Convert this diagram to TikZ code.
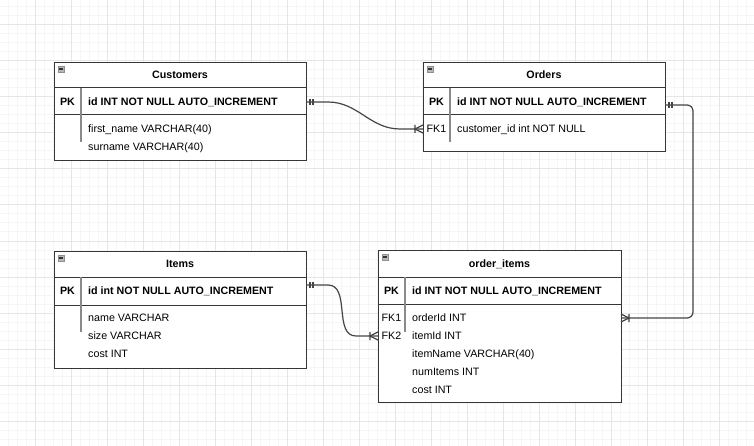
\documentclass[tikz,border=0pt]{standalone}
\usepackage{fontspec}
\setmainfont{Liberation Sans}
\newcommand\erfont{\fontsize{10.7}{12.8}\selectfont}
\definecolor{gridminor}{HTML}{F6F6F6}
\definecolor{gridmajor}{HTML}{E6E6E6}
\definecolor{edgecol}{HTML}{363636}
\definecolor{sepcol}{HTML}{8A8A8A}
\definecolor{linkcol}{HTML}{454545}
\definecolor{iconfill}{HTML}{B8B8B8}
\definecolor{icondraw}{HTML}{8F8F8F}
\tikzset{
  tbl/.style={draw=edgecol, fill=white, line width=1.2, anchor=north west, inner sep=0pt},
  rule/.style={draw=edgecol, line width=1},
  keysep/.style={draw=sepcol, line width=1.8},
  link/.style={draw=linkcol, line width=1.2},
  txt/.style={inner sep=0pt, text height=7.66pt, text depth=0pt, font=\erfont},
  title/.style={txt, font=\erfont\bfseries},
  keylbl/.style={txt},
  pklbl/.style={txt, font=\erfont\bfseries},
  field/.style={txt, anchor=west},
  pkfield/.style={field, font=\erfont\bfseries},
  one/.pic={\draw[link] (4,-3) -- (4,3) (7,-3) -- (7,3);},
  many/.pic={\draw[link] (0,-4) -- (-8,0) -- (0,4) (-8,-4) -- (-8,4);},
  collapse/.pic={\filldraw[fill=iconfill, draw=icondraw, line width=0.7] (0,0) rectangle (6,6);
    \draw[black!80, line width=1.2] (1.3,3) -- (4.7,3);}
}
\begin{document}
\begin{tikzpicture}[x=1pt, y=-1pt]
  \useasboundingbox (0,0) rectangle (754,446);
  % background grid
  \foreach \gx in {8,17,...,754} \draw[gridminor, line width=1] (\gx,0) -- (\gx,446);
  \foreach \gy in {7,16,...,446} \draw[gridminor, line width=1] (0,\gy) -- (754,\gy);
  \foreach \gx in {35,71,...,754} \draw[gridmajor, line width=1] (\gx,0) -- (\gx,446);
  \foreach \gy in {25,61,...,446} \draw[gridmajor, line width=1] (0,\gy) -- (754,\gy);

  % Customers
  \node[tbl, minimum width=252, minimum height=98] (customers) at (54,62) {};
  \draw[rule] (54,88) -- (306,88) (54,115) -- (306,115);
  \draw[keysep] (81,88) -- (81,142);
  \pic at (58,66) {collapse};
  \node[title] (customers-title) at (180,75) {Customers};
  \node[pklbl] (customers-pk) at (67.5,102) {PK};
  \node[pkfield] (customers-id) at (88,102) {id INT NOT NULL AUTO\_INCREMENT};
  \foreach \f [count=\i] in {first\_name VARCHAR(40), surname VARCHAR(40)}
    \node[field] (customers-row\i) at (88,110.5+18*\i) {\f};

  % Orders
  \node[tbl, minimum width=242, minimum height=89] (orders) at (423,62) {};
  \draw[rule] (423,88) -- (665,88) (423,115) -- (665,115);
  \draw[keysep] (450,88) -- (450,142);
  \pic at (427,66) {collapse};
  \node[title] (orders-title) at (544,75) {Orders};
  \node[pklbl] (orders-pk) at (436.5,102) {PK};
  \node[pkfield] (orders-id) at (457,102) {id INT NOT NULL AUTO\_INCREMENT};
  \node[keylbl] (orders-fk1) at (436.5,128.5) {FK1};
  \node[field] (orders-row1) at (457,128.5) {customer\_id int NOT NULL};

  % Items
  \node[tbl, minimum width=252, minimum height=117] (items) at (54,251) {};
  \draw[rule] (54,277) -- (306,277) (54,305) -- (306,305);
  \draw[keysep] (81,277) -- (81,332);
  \pic at (58,255) {collapse};
  \node[title] (items-title) at (180,264) {Items};
  \node[pklbl] (items-pk) at (67.5,291) {PK};
  \node[pkfield] (items-id) at (88,291) {id int NOT NULL AUTO\_INCREMENT};
  \foreach \f [count=\i] in {name VARCHAR, size VARCHAR, cost INT}
    \node[field] (items-row\i) at (88,299.5+18*\i) {\f};

  % order_items
  \node[tbl, minimum width=243, minimum height=152] (orderitems) at (378,250) {};
  \draw[rule] (378,277) -- (621,277) (378,304) -- (621,304);
  \draw[keysep] (405,277) -- (405,332);
  \pic at (382,254) {collapse};
  \node[title] (orderitems-title) at (499.5,264) {order\_items};
  \node[pklbl] (orderitems-pk) at (391.5,291) {PK};
  \node[pkfield] (orderitems-id) at (412,291) {id INT NOT NULL AUTO\_INCREMENT};
  \node[keylbl] (orderitems-fk1) at (391.5,317.5) {FK1};
  \node[keylbl] (orderitems-fk2) at (391.5,335.5) {FK2};
  \foreach \f [count=\i] in {orderId INT, itemId INT, itemName VARCHAR(40), numItems INT, cost INT}
    \node[field] (orderitems-row\i) at (412,299.5+18*\i) {\f};

  % relations
  \coordinate (cust-pk) at (306,102);
  \coordinate (ord-fk1) at (423,129);
  \coordinate (ord-pk) at (665,105);
  \coordinate (oi-fk1) at (621,318);
  \coordinate (items-pkend) at (306,285);
  \coordinate (oi-fk2) at (378,336);
  \draw[link] (cust-pk) -- ++(22,0) to[out=0, in=180] ++(72,27) -- (ord-fk1);
  \draw[link, rounded corners=6] (ord-pk) -- (693,105) -- (693,318) -- (oi-fk1);
  \draw[link] (items-pkend) -- ++(22,0) to[out=0, in=180] ++(28,51) -- (oi-fk2);
  \pic at (cust-pk) {one};
  \pic at (ord-pk) {one};
  \pic at (items-pkend) {one};
  \pic at (ord-fk1) {many};
  \pic at (oi-fk2) {many};
  \pic[rotate=180] at (oi-fk1) {many};
\end{tikzpicture}
\end{document}
